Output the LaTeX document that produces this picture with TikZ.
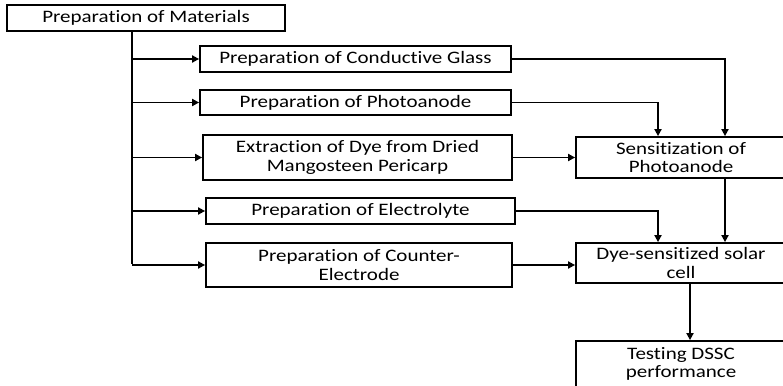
\documentclass[tikz,border=0pt]{standalone}
\usepackage{fontspec}
\setmainfont{Carlito}[FakeStretch=1.2, Ligatures=NoCommon]
\usetikzlibrary{arrows.meta, positioning}

\begin{document}
\begin{tikzpicture}[x=1pt, y=-1pt,
  box/.style={rectangle, draw, line width=1.8pt, minimum height=26pt,
              inner sep=0pt, align=center, font=\fontsize{17.5}{18.5}\selectfont},
  arrow/.style={-{Triangle[length=7pt, width=7pt]}, line width=1.8pt},
]
  \useasboundingbox (0,0) rectangle (783,385);

  \node[box, minimum width=278] (mat) at (146,18) {Preparation of Materials};
  \node[box, minimum width=311] (glass) at (355.5,59) {Preparation of Conductive Glass};
  \node[box, minimum width=311, minimum height=25] (photo) at (355.5,102.5)
    {Preparation of Photoanode};
  \node[box, minimum width=309, minimum height=45] (dye) at (357.5,157.5)
    {Extraction of Dye from Dried\\Mangosteen Pericarp};
  \node[box, minimum width=309] (elec) at (360.5,211) {Preparation of Electrolyte};
  \node[box, minimum width=306, minimum height=44] (counter) at (359,265)
    {Preparation of Counter-\\Electrode};
  \node[box, minimum width=210, minimum height=41] (sens) at (681,157.5)
    {Sensitization of\\Photoanode};
  \node[box, minimum width=210, minimum height=40] (dssc) at (681,263)
    {Dye-sensitized solar\\cell};
  \node[box, minimum width=210, minimum height=46] (test) at (681,364)
    {Testing DSSC\\performance};

  % trunk and branches
  \coordinate (trunk) at (132,264);
  \draw[line width=1.8pt] (trunk |- mat.south) -- (trunk);
  \foreach \b in {glass, photo, dye, elec, counter}
    \draw[arrow] (\b.west -| trunk) -- (\b.west);

  \draw[arrow] (glass.east) -| ([xshift=44]sens.north);
  \draw[arrow] (photo.east) -| ([xshift=-23]sens.north);
  \draw[arrow] (dye.east) -- (sens.west);
  \draw[arrow] ([xshift=44]sens.south) -- ([xshift=44]dssc.north);
  \draw[arrow] (elec.east) -| ([xshift=-23]dssc.north);
  \draw[arrow] (counter.east) -- (counter.east -| dssc.west);
  \draw[arrow] ([xshift=9]dssc.south) -- ([xshift=9]test.north);
\end{tikzpicture}
\end{document}
